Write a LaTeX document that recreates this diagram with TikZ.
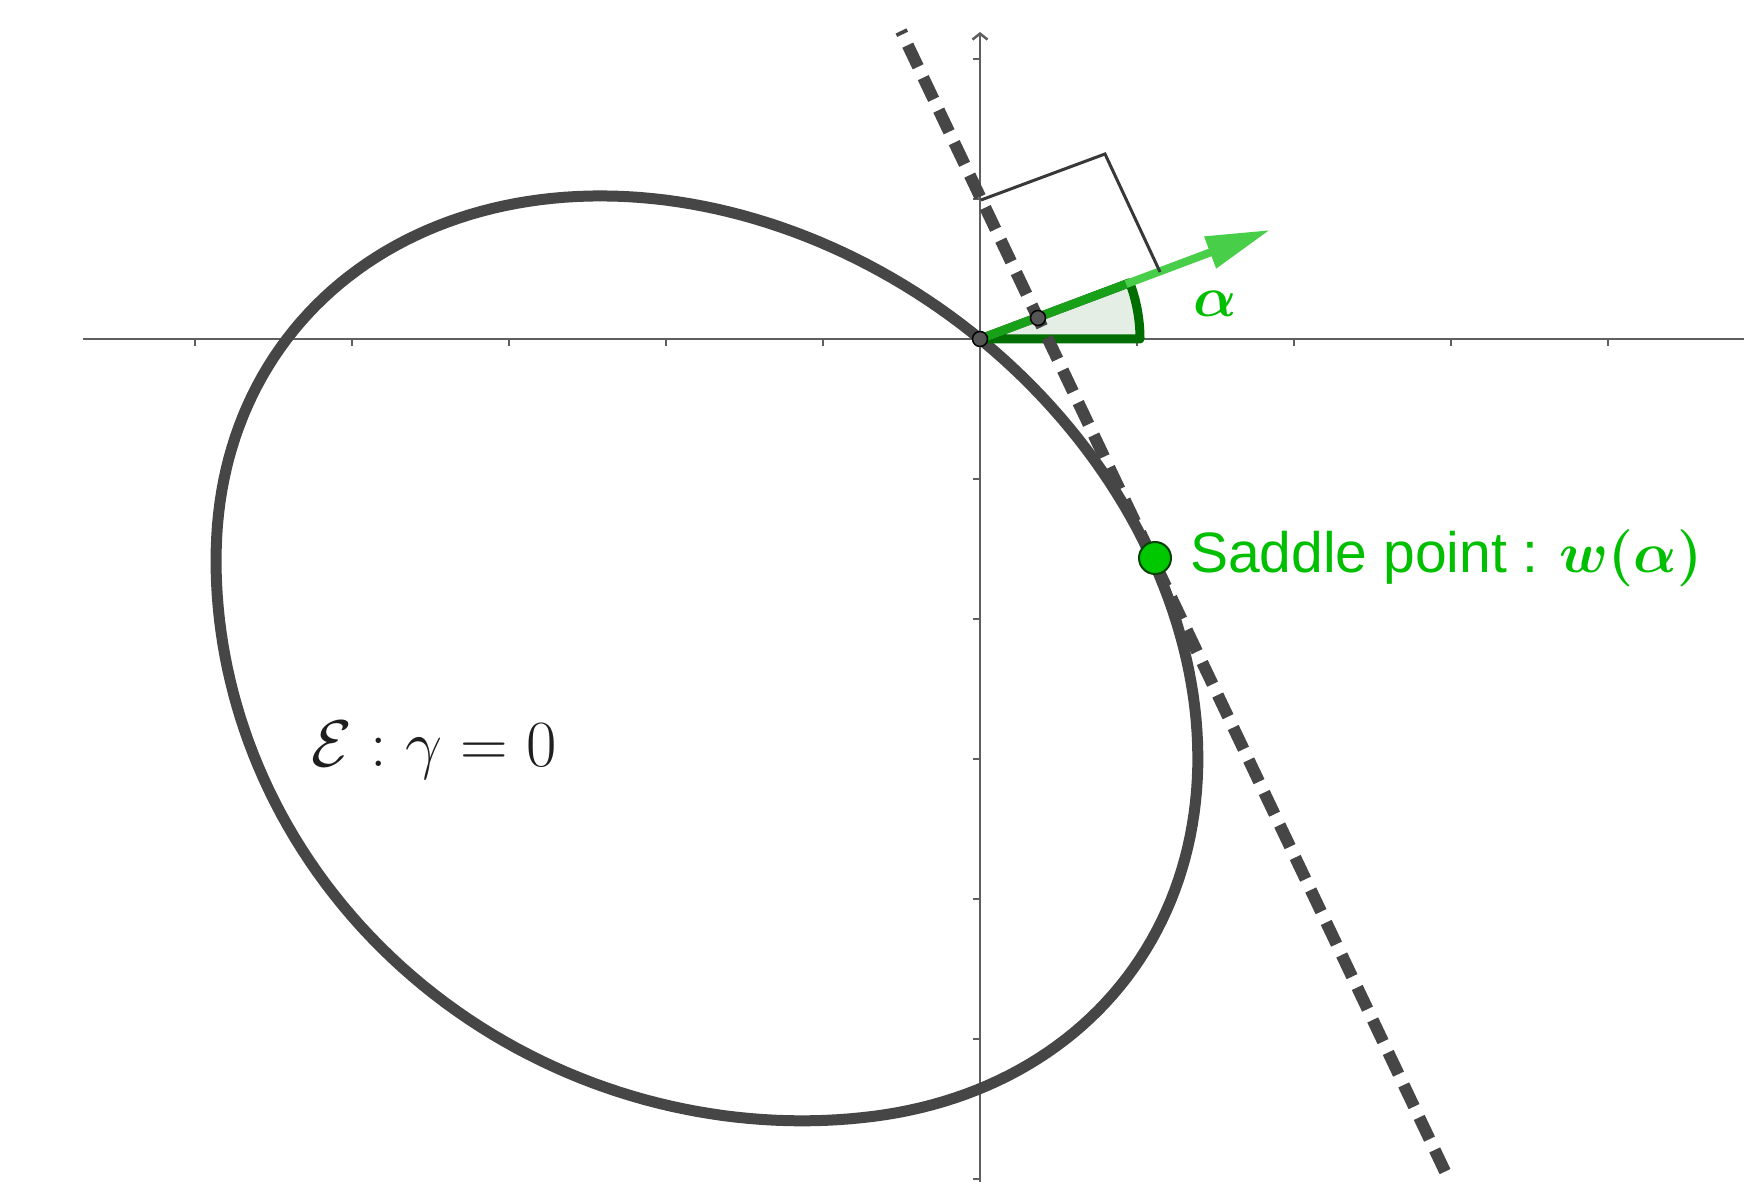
\RequirePackage{fix-cm}
\documentclass[tikz,border=0pt]{standalone}
\usepackage{amsmath,bm}
\usepackage{fontspec}
\newfontfamily\sansf{Liberation Sans}
\usetikzlibrary{arrows.meta,calc}
\definecolor{curvec}{RGB}{70,70,70}
\definecolor{axisc}{RGB}{95,95,95}
\definecolor{txtgreen}{RGB}{0,190,0}
\definecolor{vecgreen}{RGB}{72,206,72}
\definecolor{vecdark}{RGB}{25,160,25}
\definecolor{darkgreen}{RGB}{0,110,0}
\definecolor{sectorfill}{RGB}{228,238,228}
\definecolor{ptgreen}{RGB}{0,200,0}
\definecolor{ptgray}{RGB}{85,85,85}
\tikzset{
  axisline/.style={draw=axisc, line width=2.5pt},
  ticklines/.style={draw=axisc, line width=2pt},
  curveline/.style={draw=curvec, line width=11pt, line join=round},
  dashline/.style={draw=curvec, line width=12pt, dash pattern=on 24pt off 12pt, dash phase=20.3pt},
  rightmark/.style={draw=black!78, line width=3pt, line join=miter},
  smallpt/.style={circle, fill=ptgray, draw=black, line width=1.5pt, minimum size=15pt, inner sep=0pt},
  saddlept/.style={circle, fill=ptgreen, draw=black!75!green, line width=2pt, minimum size=32pt, inner sep=0pt},
  greentext/.style={anchor=base west, inner sep=0pt, text=txtgreen, font=\fontsize{57}{68}\selectfont},
}
\begin{document}
\begin{tikzpicture}[x=1pt,y=1pt]
\useasboundingbox (0,0) rectangle (1744,1182);
\fill[white] (0,0) rectangle (1744,1182);
% coordinates
\coordinate (O) at (980,843);
\coordinate (xl) at (83,843);
\coordinate (xr) at (1744,843);
\coordinate (yb) at (980,0);
\coordinate (yt) at (980,1150);
\coordinate (T) at (1270,952);
\coordinate (Q) at ($(O)+(20.6:156pt)$);
\coordinate (D1) at (901,1151);
\coordinate (D2) at (1450,0);
\coordinate (A) at (981,982);
\coordinate (B) at (1105,1028);
\coordinate (C) at (1160,910);
\coordinate (P) at (1038,864);
\coordinate (Sd) at (1155,624);
% axes
\draw[axisline] (xl) -- (xr);
\draw[axisline, -{Straight Barb[length=6pt,width=15pt]}] (yb) -- (yt);
\foreach \x in {195,352,509,666,823,1137,1294,1451,1608}
  \draw[ticklines] (\x,843) -- (\x,836);
\foreach \y in {3,143,283,423,563,703,983,1123}
  \draw[ticklines] (980,\y) -- (973,\y);
% closed curve E (ellipse-like, fuller in lower left)
\draw[curveline] plot[domain=0:360, samples=241, variable=\t]
  ({707+(420.2*cos(\t)+253.7*sin(\t))*(1+0.032*(max(0,cos(1.6*(\t-265))))^2*(abs(\t-265)<56))},
   {524+(-319.0*cos(\t)+334.3*sin(\t))*(1+0.032*(max(0,cos(1.6*(\t-265))))^2*(abs(\t-265)<56))}) -- cycle;
% angle sector
\filldraw[fill=sectorfill, draw=darkgreen, line width=9pt, line join=round]
  (O) -- ++(160pt,0pt) arc[start angle=0, end angle=20.6, radius=160pt] -- cycle;
% vector
\draw[vecgreen, line width=8pt, -{Triangle[length=64pt,width=32pt]}] (O) -- (T);
\draw[vecdark, line width=8pt] (O) -- (Q);
% tangent line
\draw[dashline] (D1) -- (D2);
% right angle mark
\draw[rightmark] (A) -- (B) -- (C);
% points
\node[smallpt] (Odot) at (O) {};
\node[smallpt] (Pdot) at (P) {};
\node[saddlept] (Sdot) at (Sd) {};
% labels
\node[greentext] (alab) at (1193,865) {$\bm{\alpha}$};
\node[greentext] (slab) at (1190,609) {\sansf Saddle point : $\bm{w(\alpha)}$};
\node[anchor=base west, inner sep=0pt, text=black!88, font=\fontsize{66}{78}\selectfont] (elab) at (311,415) {$\mathcal{E}:\gamma=0$};
\end{tikzpicture}
\end{document}
